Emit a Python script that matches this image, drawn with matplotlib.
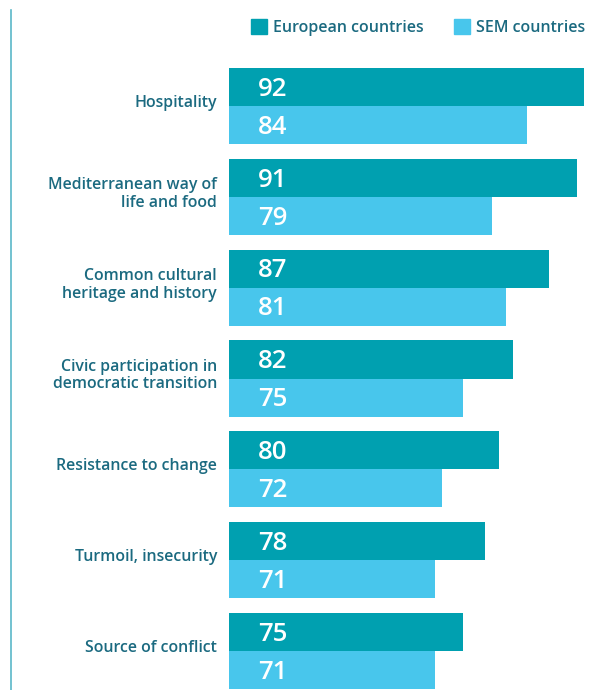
import numpy as np
import matplotlib.pyplot as plt
import matplotlib.patches as mpatches

plt.rcParams['font.family'] = ['Open Sans', 'DejaVu Sans']

categories = ["Hospitality", "Mediterranean way of\nlife and food", "Common cultural\nheritage and history",
              "Civic participation in\ndemocratic transition", "Resistance to change",
              "Turmoil, insecurity", "Source of conflict"]
european = [92, 91, 87, 82, 80, 78, 75]
sem = [84, 79, 81, 75, 72, 71, 71]

euro_color = "#00A0B0"
sem_color = "#48C6EC"
text_color = "#1B6A80"

W, H = 593, 690
fig = plt.figure(figsize=(W / 100, H / 100), dpi=100)
ax = fig.add_axes([229 / W, 1 - 689 / H, 355 / W, (689 - 68) / H])

pitch = 90.8 / 38
y = np.arange(len(categories)) * pitch
ax.barh(y, european, height=1, left=0, align='edge', color=euro_color)
ax.barh(y + 1, sem, height=1, left=0, align='edge', color=sem_color)
ax.set_xlim(42, 92)
ax.set_ylim(y[-1] + 2, 0)
ax.axis('off')

for i in range(len(categories)):
    ax.text(46.1, y[i] + 0.56, str(european[i]), color='white', fontsize=18.5, fontweight='semibold',
            va='center', ha='left')
    ax.text(46.1, y[i] + 1.56, str(sem[i]), color='white', fontsize=18.5, fontweight='semibold',
            va='center', ha='left')
    ax.text(-12 / 355, 1 - (y[i] + 0.92) / (y[-1] + 2), categories[i], transform=ax.transAxes,
            ha='right', va='center', color=text_color, fontsize=11.4, fontweight='semibold',
            linespacing=1.15)

# left rule
fig.add_artist(plt.Line2D([11 / W, 11 / W], [0, 1 - 10 / H], color="#5AB8C8", lw=1.2))

# legend
euro_patch = mpatches.Patch(color=euro_color, label='European countries')
sem_patch = mpatches.Patch(color=sem_color, label='SEM countries')
fig.legend(handles=[euro_patch, sem_patch], loc='upper right', bbox_to_anchor=(600 / W, 1 - 5 / H),
           ncol=2, frameon=False, handlelength=1.0, handleheight=1.0,
           handletextpad=0.4, columnspacing=1.9, labelcolor=text_color,
           prop={'weight': 'semibold', 'size': 11.5})

fig.savefig("out.png", dpi=100)
